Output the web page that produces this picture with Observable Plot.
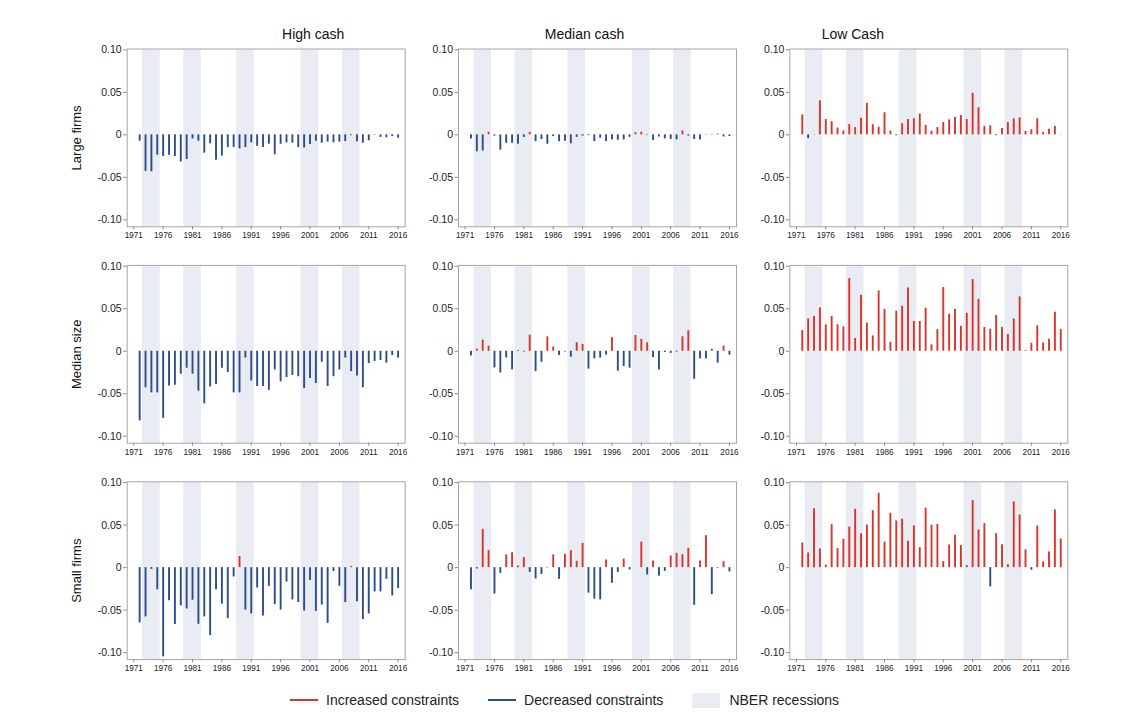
<!DOCTYPE html>
<html><head><meta charset="utf-8">
<script src="https://cdn.jsdelivr.net/npm/d3@7"></script>
<script src="https://cdn.jsdelivr.net/npm/@observablehq/plot@0.6"></script>
<style>
body{margin:0;background:#fff;font-family:"Liberation Sans",Arial,Helvetica,sans-serif;}
#chart{position:relative;width:1148px;}
.legend{display:flex;align-items:center;padding-left:290px;margin-top:16px;height:16px;font-size:14px;color:#222;}
.item{display:flex;align-items:center;margin-right:29px;}
.sw-line{width:28px;height:2px;margin-right:8px;}
.sw-box{width:28px;height:15px;margin-right:9px;}
</style></head><body>
<div id="chart"></div>
<script>
const years = [1972,1973,1974,1975,1976,1977,1978,1979,1980,1981,1982,1983,1984,1985,1986,1987,1988,1989,1990,1991,1992,1993,1994,1995,1996,1997,1998,1999,2000,2001,2002,2003,2004,2005,2006,2007,2008,2009,2010,2011,2012,2013,2014,2015,2016];
const xTicks = [1971,1976,1981,1986,1991,1996,2001,2006,2011,2016];
const yTicks = [-0.10,-0.05,0,0.05,0.10];
const cashGroups = ["High cash","Median cash","Low Cash"];
const sizeGroups = ["Large firms","Median size","Small firms"];
const recessions = [
  {start:1972.5,end:1975.5},{start:1979.5,end:1982.5},{start:1988.5,end:1991.5},
  {start:1999.5,end:2002.5},{start:2006.5,end:2009.5}
];

// Large firms
const highLarge = [-0.0075,-0.043,-0.0435,-0.024,-0.0255,-0.024,-0.0255,-0.032,-0.029,-0.005,-0.0075,-0.0215,-0.0105,-0.030,-0.025,-0.015,-0.015,-0.0165,-0.015,-0.0095,-0.0135,-0.015,-0.011,-0.0235,-0.011,-0.0095,-0.0098,-0.015,-0.0155,-0.0115,-0.0075,-0.0098,-0.0086,-0.0094,-0.0086,-0.008,-0.001,-0.008,-0.0098,-0.007,-0.0005,-0.003,-0.0035,-0.002,-0.004];
const medLarge = [-0.005,-0.020,-0.019,0.003,-0.0015,-0.018,-0.010,-0.010,-0.011,-0.003,0.003,-0.008,-0.0055,-0.011,-0.002,-0.008,-0.0075,-0.0105,-0.003,-0.0015,-0.001,-0.008,-0.004,-0.008,-0.006,-0.0063,-0.006,-0.003,0.0025,0.003,-0.0005,-0.0065,-0.0025,-0.0047,-0.0055,-0.006,0.0045,-0.0015,-0.0055,-0.006,0.0005,0.0005,0.001,-0.0025,-0.002];
const lowLarge = [0.0235,-0.0045,0.0005,0.040,0.018,0.0155,0.008,0.0045,0.012,0.0085,0.0195,0.037,0.012,0.009,0.026,0.0043,-0.001,0.013,0.018,0.019,0.0245,0.011,0.0043,0.0086,0.0145,0.0176,0.0204,0.0227,0.018,0.049,0.032,0.010,0.0106,-0.001,0.0075,0.0145,0.0188,0.020,0.004,0.006,0.019,0.0027,0.0067,0.0098,0.0003];
// Median size
const highMed = [-0.082,-0.043,-0.049,-0.049,-0.079,-0.041,-0.040,-0.027,-0.020,-0.027,-0.047,-0.062,-0.042,-0.039,-0.020,-0.025,-0.049,-0.049,-0.008,-0.035,-0.0415,-0.0415,-0.046,-0.022,-0.036,-0.031,-0.0285,-0.030,-0.044,-0.032,-0.038,-0.013,-0.0415,-0.030,-0.022,-0.008,-0.024,-0.029,-0.043,-0.0145,-0.012,-0.011,-0.014,-0.005,-0.008];
const medMed = [-0.0055,0.0025,0.013,0.006,-0.0196,-0.0255,-0.008,-0.022,0.001,-0.001,0.019,-0.024,-0.013,0.017,0.005,-0.005,-0.0008,-0.007,0.010,0.008,-0.021,-0.009,-0.008,-0.0045,0.016,-0.0235,-0.018,-0.020,0.0185,0.014,0.010,-0.0075,-0.022,-0.0015,-0.0025,-0.001,0.017,0.024,-0.033,-0.009,-0.009,0.0025,-0.014,0.006,-0.0045];
const lowMed = [0.0243,0.038,0.041,0.051,0.031,0.041,0.031,0.0286,0.0855,0.015,0.066,0.033,0.018,0.071,0.049,0.0106,0.047,0.053,0.0745,0.035,0.035,0.0506,0.0075,0.0255,0.075,0.0435,0.049,0.0294,0.0447,0.0843,0.061,0.028,0.026,0.042,0.028,0.0196,0.038,0.064,0.001,0.0094,0.030,0.0098,0.014,0.046,0.0255];
// Small firms
const highSmall = [-0.065,-0.058,-0.002,-0.026,-0.105,-0.039,-0.067,-0.045,-0.0486,-0.0384,-0.0667,-0.058,-0.080,-0.026,-0.043,-0.060,-0.011,0.013,-0.050,-0.0545,-0.024,-0.057,-0.022,-0.0435,-0.050,-0.017,-0.038,-0.041,-0.051,-0.015,-0.0515,-0.044,-0.0655,-0.0045,-0.022,-0.041,0.0015,-0.040,-0.061,-0.0545,-0.0286,-0.0286,-0.0137,-0.0333,-0.0247];
const medSmall = [-0.026,-0.0016,0.045,0.020,-0.031,-0.0067,0.015,0.0176,0.002,0.0118,-0.0055,-0.0133,-0.008,-0.0005,0.015,-0.0137,0.0157,0.020,0.0075,0.0286,-0.030,-0.037,-0.038,0.009,-0.0184,-0.0055,0.010,-0.0027,0,0.030,-0.0086,0.0078,-0.010,-0.0043,0.0137,0.0169,0.0153,0.0227,-0.0443,0.0078,0.0376,-0.0318,-0.0008,0.007,-0.005];
const lowSmall = [0.029,0.0173,0.0694,0.022,0.003,0.0506,0.0224,0.0333,0.0478,0.0686,0.040,0.050,0.067,0.0875,0.030,0.064,0.055,0.057,0.031,0.049,0.0235,0.070,0.050,0.051,0.007,0.0267,0.038,0.026,0.0024,0.0788,0.0443,0.0518,-0.0227,0.040,0.027,0.0035,0.0773,0.062,0.0208,-0.003,0.049,0.0067,0.0184,0.068,0.0337];

const RED = "#d8342b", BLUE = "#2c4d8c", BAND = "#e9ecf2";
const Y_MIN = -0.1082, Y_MAX = 0.101;

const panels = [
  ["High cash","Large firms",highLarge],["Median cash","Large firms",medLarge],["Low Cash","Large firms",lowLarge],
  ["High cash","Median size",highMed],["Median cash","Median size",medMed],["Low Cash","Median size",lowMed],
  ["High cash","Small firms",highSmall],["Median cash","Small firms",medSmall],["Low Cash","Small firms",lowSmall]
];
const table = panels.flatMap(([cash,size,vals]) => vals.map((v,i)=>({cash,size,year:years[i],value:v})));
const pos = table.filter(d=>d.value>0);
const neg = table.filter(d=>d.value<0);

const fmtY = d => d === 0 ? "0" : d3.format(".2f")(d).replace("−","-");
const titleOffsets = [47,-13,-76];

const plot = Plot.plot({
  width: 1148, height: 676,
  marginLeft: 126.7, marginRight: 80.7, marginTop: 48.5, marginBottom: 16.9,
  style: {fontFamily: "'Liberation Sans', Arial, Helvetica, sans-serif", color: "#222", background: "white", overflow: "visible"},
  fx: {domain: cashGroups, axis: null, paddingInner: 0.161, paddingOuter: 0, round: false},
  fy: {domain: sizeGroups, axis: null, paddingInner: 0.1784, paddingOuter: 0, round: false},
  x: {domain: [1969.88, 2017.2]},
  y: {domain: [Y_MIN, Y_MAX]},
  marks: [
    Plot.rect(recessions, {x1: "start", x2: "end", y1: Y_MIN, y2: 0.1, fill: BAND}),
    Plot.frame({stroke: "#a5a5a5", strokeWidth: 1}),
    Plot.ruleX(pos, {x: "year", y1: 0, y2: "value", fx: "cash", fy: "size", stroke: RED, strokeWidth: 1.9}),
    Plot.ruleX(neg, {x: "year", y1: 0, y2: "value", fx: "cash", fy: "size", stroke: BLUE, strokeWidth: 1.9}),
    Plot.axisY({ticks: yTicks, tickFormat: fmtY, tickSize: 3.5, tickPadding: 2, fontSize: 10.5, facetAnchor: null, label: null, stroke: "#8a8a8a", fill: "#222"}),
    Plot.axisX({ticks: xTicks, tickFormat: d => String(d), tickSize: 3, tickPadding: 2.5, fontSize: 8.2, facetAnchor: null, label: null, stroke: "#8a8a8a", fill: "#222"}),
    ...cashGroups.map((c,i) => Plot.text([c], {fx: d => d, fy: () => "Large firms", text: d => d, frameAnchor: "top", dy: -20, dx: titleOffsets[i], fontSize: 14, fill: "#111"})),
    Plot.text(sizeGroups, {fx: () => "High cash", fy: d => d, text: d => d, frameAnchor: "left", dx: -50, rotate: -90, textAnchor: "middle", fontSize: 13, fill: "#111"})
  ]
});
document.getElementById("chart").appendChild(plot);

const legendItems = [
  {label: "Increased constraints", kind: "line", color: RED},
  {label: "Decreased constraints", kind: "line", color: BLUE},
  {label: "NBER recessions", kind: "box", color: BAND}
];
const leg = document.createElement("div");
leg.className = "legend";
for (const it of legendItems) {
  const item = document.createElement("div");
  item.className = "item";
  const sw = document.createElement("span");
  sw.className = it.kind === "line" ? "sw-line" : "sw-box";
  sw.style.background = it.color;
  const tx = document.createElement("span");
  tx.textContent = it.label;
  item.appendChild(sw); item.appendChild(tx);
  leg.appendChild(item);
}
document.getElementById("chart").appendChild(leg);
</script></body></html>
